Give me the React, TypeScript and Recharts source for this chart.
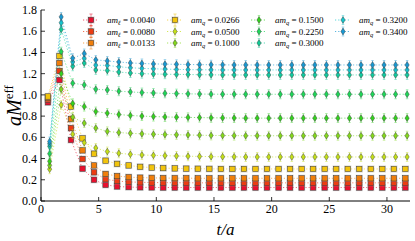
import React from "react";
import { ComposedChart, Line, XAxis, YAxis } from "recharts";

const W = 415;
const H = 241;
const PLOT_TOP = 10;
const PLOT_LEFT = 41;
const PLOT_RIGHT = 410;
const PLOT_BOTTOM = 201;
const SERIF = "'Liberation Serif', 'DejaVu Serif', serif";

// time slices (squares and diamonds are drawn a little apart)
const tSquares = [
  0.6, 1.6, 2.6, 3.6, 4.6, 5.6, 6.6, 7.6,
  8.6, 9.6, 10.6, 11.6, 12.6, 13.6, 14.6, 15.6,
  16.6, 17.6, 18.6, 19.6, 20.6, 21.6, 22.6, 23.6,
  24.6, 25.6, 26.6, 27.6, 28.6, 29.6, 30.6, 31.6,
];
const tDiamonds = [
  0.75, 1.75, 2.75, 3.75, 4.75, 5.75, 6.75, 7.75,
  8.75, 9.75, 10.75, 11.75, 12.75, 13.75, 14.75, 15.75,
  16.75, 17.75, 18.75, 19.75, 20.75, 21.75, 22.75, 23.75,
  24.75, 25.75, 26.75, 27.75, 28.75, 29.75, 30.75, 31.75,
];

const xTicks = [0, 5, 10, 15, 20, 25, 30];
const yTicks = [0, 0.2, 0.4, 0.6, 0.8, 1.0, 1.2, 1.4, 1.6, 1.8];

const m0040 = [
  0.930, 1.140, 0.575, 0.305, 0.200, 0.152, 0.137, 0.131,
  0.129, 0.128, 0.127, 0.127, 0.127, 0.127, 0.127, 0.127,
  0.127, 0.127, 0.127, 0.127, 0.127, 0.127, 0.127, 0.127,
  0.127, 0.127, 0.127, 0.127, 0.127, 0.127, 0.127, 0.127,
];
const m0080 = [
  0.955, 1.225, 0.687, 0.396, 0.270, 0.205, 0.188, 0.180,
  0.176, 0.174, 0.173, 0.172, 0.172, 0.171, 0.171, 0.171,
  0.171, 0.171, 0.171, 0.171, 0.171, 0.171, 0.171, 0.171,
  0.171, 0.171, 0.171, 0.171, 0.171, 0.171, 0.171, 0.171,
];
const m0133 = [
  0.970, 1.300, 0.772, 0.477, 0.335, 0.255, 0.235, 0.225,
  0.220, 0.218, 0.216, 0.215, 0.215, 0.214, 0.214, 0.214,
  0.214, 0.214, 0.214, 0.214, 0.214, 0.214, 0.214, 0.214,
  0.214, 0.214, 0.214, 0.214, 0.214, 0.214, 0.214, 0.214,
];
const m0266 = [
  0.985, 1.366, 0.890, 0.590, 0.446, 0.380, 0.350, 0.335,
  0.322, 0.315, 0.310, 0.307, 0.305, 0.304, 0.303, 0.302,
  0.302, 0.302, 0.302, 0.302, 0.302, 0.302, 0.302, 0.302,
  0.302, 0.302, 0.302, 0.302, 0.302, 0.302, 0.302, 0.302,
];
const m0500 = [
  0.300, 0.906, 0.630, 0.550, 0.500, 0.466, 0.450, 0.440,
  0.434, 0.430, 0.427, 0.424, 0.422, 0.420, 0.418, 0.417,
  0.416, 0.415, 0.415, 0.415, 0.415, 0.415, 0.415, 0.415,
  0.415, 0.415, 0.415, 0.415, 0.415, 0.415, 0.415, 0.415,
];
const m1000 = [
  0.336, 1.053, 0.790, 0.734, 0.687, 0.656, 0.645, 0.638,
  0.633, 0.629, 0.626, 0.624, 0.622, 0.620, 0.618, 0.617,
  0.616, 0.615, 0.615, 0.615, 0.615, 0.615, 0.615, 0.615,
  0.615, 0.615, 0.615, 0.615, 0.615, 0.615, 0.615, 0.615,
];
const m1500 = [
  0.374, 1.200, 0.920, 0.890, 0.843, 0.828, 0.815, 0.806,
  0.800, 0.796, 0.792, 0.790, 0.788, 0.786, 0.784, 0.783,
  0.782, 0.781, 0.781, 0.781, 0.781, 0.781, 0.781, 0.781,
  0.781, 0.781, 0.781, 0.781, 0.781, 0.781, 0.781, 0.781,
];
const m2250 = [
  0.446, 1.407, 1.110, 1.094, 1.053, 1.047, 1.035, 1.028,
  1.022, 1.018, 1.015, 1.012, 1.010, 1.008, 1.007, 1.006,
  1.006, 1.006, 1.006, 1.006, 1.006, 1.006, 1.006, 1.006,
  1.006, 1.006, 1.006, 1.006, 1.006, 1.006, 1.006, 1.006,
];
const m3000 = [
  0.515, 1.617, 1.270, 1.300, 1.235, 1.230, 1.215, 1.206,
  1.200, 1.197, 1.195, 1.193, 1.192, 1.190, 1.189, 1.188,
  1.188, 1.188, 1.188, 1.188, 1.188, 1.188, 1.188, 1.188,
  1.188, 1.188, 1.188, 1.188, 1.188, 1.188, 1.188, 1.188,
];
const m3200 = [
  0.540, 1.680, 1.310, 1.345, 1.280, 1.278, 1.265, 1.256,
  1.250, 1.246, 1.243, 1.240, 1.238, 1.237, 1.236, 1.235,
  1.235, 1.235, 1.235, 1.235, 1.235, 1.235, 1.235, 1.235,
  1.235, 1.235, 1.235, 1.235, 1.235, 1.235, 1.235, 1.235,
];
const m3400 = [
  0.560, 1.735, 1.345, 1.390, 1.330, 1.320, 1.310, 1.301,
  1.296, 1.292, 1.290, 1.288, 1.286, 1.285, 1.284, 1.283,
  1.282, 1.282, 1.282, 1.282, 1.282, 1.282, 1.282, 1.282,
  1.282, 1.282, 1.282, 1.282, 1.282, 1.282, 1.282, 1.282,
];

const masses = ["0.0040", "0.0080", "0.0133", "0.0266", "0.0500", "0.1000", "0.1500", "0.2250", "0.3000", "0.3200", "0.3400"];
const subscripts = ["ℓ", "ℓ", "ℓ", "q", "q", "q", "q", "q", "q", "q", "q"];
const colors = ["#e8102e", "#ec3c12", "#f07e0a", "#f2c40c", "#c4e018", "#84d81c", "#34d21e", "#1ed658", "#10cc96", "#14c6cc", "#1898d2"];
const shapes = ["square", "square", "square", "square", "diamond", "diamond", "diamond", "diamond", "diamond", "diamond", "diamond"];
const values = [m0040, m0080, m0133, m0266, m0500, m1000, m1500, m2250, m3000, m3200, m3400];

const series = masses.map((m, i) => ({
  key: "s" + i,
  mass: m,
  sub: subscripts[i],
  color: colors[i],
  shape: shapes[i],
  data: (shapes[i] === "square" ? tSquares : tDiamonds).map((t, k) => ({ t, v: values[i][k] })),
}));

const serifStyle = { fontFamily: SERIF };

function SquareMark({ cx, cy, color }: any) {
  return (
    <g>
      <rect x={cx - 3.6} y={cy - 3.6} width={7.2} height={7.2} fill="#9a9a9a" opacity={0.35} />
      <rect x={cx - 2.7} y={cy - 2.7} width={5.4} height={5.4} fill={color} stroke="#3a3a3a" strokeWidth={0.5} />
    </g>
  );
}

function DiamondMark({ cx, cy, color }: any) {
  return (
    <g>
      <line x1={cx} x2={cx} y1={cy - 4.5} y2={cy + 4.5} stroke={color} strokeWidth={0.7} opacity={0.55} />
      <line x1={cx - 1.3} x2={cx + 1.3} y1={cy - 4.5} y2={cy - 4.5} stroke={color} strokeWidth={0.7} opacity={0.55} />
      <line x1={cx - 1.3} x2={cx + 1.3} y1={cy + 4.5} y2={cy + 4.5} stroke={color} strokeWidth={0.7} opacity={0.55} />
      <path d={`M${cx} ${cy - 3.4}L${cx + 2.1} ${cy}L${cx} ${cy + 3.4}L${cx - 2.1} ${cy}Z`} fill={color} stroke="#3a3a3a" strokeWidth={0.45} />
    </g>
  );
}

function makeDot(color: string, shape: string) {
  return (p: any) => {
    const { cx, cy, index } = p;
    if (cx == null || cy == null) return <g key={index} />;
    return shape === "square" ? (
      <SquareMark key={index} cx={cx} cy={cy} color={color} />
    ) : (
      <DiamondMark key={index} cx={cx} cy={cy} color={color} />
    );
  };
}

const BottomTick = (p: any) => (
  <g>
    <line x1={p.x} x2={p.x} y1={PLOT_BOTTOM} y2={PLOT_BOTTOM - 4} stroke="#000" strokeWidth={0.8} />
    <text x={p.x} y={PLOT_BOTTOM + 12} textAnchor="middle" fontSize={12} style={serifStyle} fill="#000">
      {p.payload.value}
    </text>
  </g>
);
const TopTick = (p: any) => (
  <line x1={p.x} x2={p.x} y1={PLOT_TOP} y2={PLOT_TOP + 4} stroke="#000" strokeWidth={0.8} />
);
const LeftTick = (p: any) => (
  <g>
    <line x1={PLOT_LEFT} x2={PLOT_LEFT + 4} y1={p.y} y2={p.y} stroke="#000" strokeWidth={0.8} />
    <text x={PLOT_LEFT - 4} y={p.y + 4} textAnchor="end" fontSize={12} style={serifStyle} fill="#000">
      {Number(p.payload.value).toFixed(1)}
    </text>
  </g>
);
const RightTick = (p: any) => (
  <line x1={PLOT_RIGHT} x2={PLOT_RIGHT - 4} y1={p.y} y2={p.y} stroke="#000" strokeWidth={0.8} />
);

// legend: 4 columns, 3 rows
const legendX = [91, 175, 259, 343];
const legendY = [20, 31.5, 43];

function LegendItem({ s, i }: any) {
  const cx = legendX[Math.floor(i / 3)];
  const cy = legendY[i % 3];
  return (
    <g>
      <line x1={cx - 8} x2={cx + 8} y1={cy} y2={cy} stroke={s.color} strokeWidth={1} strokeDasharray="1.2 2" opacity={0.7} />
      {s.shape === "square" ? (
        <g>
          <line x1={cx} x2={cx} y1={cy - 6} y2={cy + 6} stroke={s.color} strokeWidth={0.8} opacity={0.6} />
          <line x1={cx - 1.6} x2={cx + 1.6} y1={cy - 6} y2={cy - 6} stroke={s.color} strokeWidth={0.8} opacity={0.6} />
          <line x1={cx - 1.6} x2={cx + 1.6} y1={cy + 6} y2={cy + 6} stroke={s.color} strokeWidth={0.8} opacity={0.6} />
          <SquareMark cx={cx} cy={cy} color={s.color} />
        </g>
      ) : (
        <DiamondMark cx={cx} cy={cy} color={s.color} />
      )}
      <text x={cx + 16} y={cy + 3} fontSize={9} style={serifStyle} fill="#000">
        <tspan fontStyle="italic">am</tspan>
        <tspan fontSize={6.5} dy={2} fontStyle="italic">{s.sub}</tspan>
        <tspan dy={-2}>{" = " + s.mass}</tspan>
      </text>
    </g>
  );
}

export default function App() {
  return (
    <div style={{ position: "absolute", left: 0, top: 0, width: W, height: H, background: "#fff" }}>
      <ComposedChart width={W} height={H} margin={{ top: PLOT_TOP, right: W - PLOT_RIGHT, bottom: 0, left: 0 }}>
        <XAxis
          dataKey="t"
          type="number"
          domain={[0, 32]}
          ticks={xTicks}
          interval={0}
          height={H - PLOT_BOTTOM}
          axisLine={{ stroke: "#000", strokeWidth: 1 }}
          tickLine={false}
          tick={BottomTick}
          allowDataOverflow
        />
        <XAxis
          xAxisId="top"
          orientation="top"
          type="number"
          domain={[0, 32]}
          ticks={xTicks}
          interval={0}
          height={0}
          axisLine={{ stroke: "#000", strokeWidth: 1 }}
          tickLine={false}
          tick={TopTick}
          allowDataOverflow
        />
        <YAxis
          type="number"
          domain={[0, 1.8]}
          ticks={yTicks}
          interval={0}
          width={PLOT_LEFT}
          axisLine={{ stroke: "#000", strokeWidth: 1 }}
          tickLine={false}
          tick={LeftTick}
          allowDataOverflow
        />
        <YAxis
          yAxisId="right"
          orientation="right"
          type="number"
          domain={[0, 1.8]}
          ticks={yTicks}
          interval={0}
          width={0}
          axisLine={{ stroke: "#000", strokeWidth: 1 }}
          tickLine={false}
          tick={RightTick}
          allowDataOverflow
        />
        {series.map((s) => (
          <Line
            key={s.key}
            data={s.data}
            dataKey="v"
            type="linear"
            stroke={s.color}
            strokeWidth={1}
            strokeOpacity={0.6}
            strokeDasharray="1.2 2"
            dot={makeDot(s.color, s.shape)}
            activeDot={false}
            isAnimationActive={false}
          />
        ))}
      </ComposedChart>
      <svg width={W} height={H} style={{ position: "absolute", left: 0, top: 0, pointerEvents: "none" }}>
        <text transform="translate(21,105.5) rotate(-90)" textAnchor="middle" fontSize={20} style={serifStyle} fill="#000">
          <tspan fontStyle="italic">aM</tspan>
          <tspan fontSize={13} dy={-8}>eff</tspan>
        </text>
        <text x={(PLOT_LEFT + PLOT_RIGHT) / 2} y={235} textAnchor="middle" fontSize={17} fontStyle="italic" style={serifStyle} fill="#000">
          t/a
        </text>
        {series.map((s, i) => (
          <LegendItem key={s.key} s={s} i={i} />
        ))}
      </svg>
    </div>
  );
}
